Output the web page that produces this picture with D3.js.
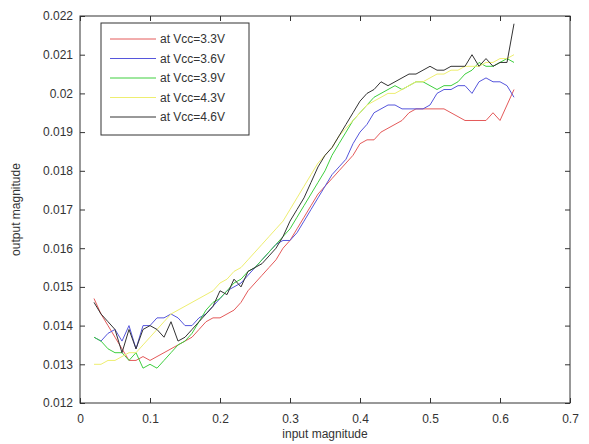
<!DOCTYPE html>
<html>
<head>
<meta charset="utf-8">
<script src="https://cdn.jsdelivr.net/npm/d3@7"></script>
<style>
  body { margin: 0; background: #fff; }
  text { font-family: "Liberation Sans", Arial, sans-serif; fill: #333; }
</style>
</head>
<body>
<script>
// input magnitude samples (shared by all series)
var xs = d3.range(2, 63).map(i => i / 100);

var names = ["at Vcc=3.3V", "at Vcc=3.6V", "at Vcc=3.9V", "at Vcc=4.3V", "at Vcc=4.6V"];
var colors = ["#e45a5a", "#5656dc", "#3fcf3f", "#eeee70", "#333333"];

// output magnitude per series
var v33 = [0.0147,0.0143,0.0140,0.0137,0.0134,0.0131,0.0131,0.0132,0.0131,0.0132,
           0.0133,0.0134,0.0135,0.0136,0.0137,0.0139,0.0141,0.0142,0.0142,0.0143,
           0.0144,0.0146,0.0149,0.0151,0.0153,0.0155,0.0157,0.0160,0.0162,0.0165,
           0.0168,0.0171,0.0174,0.0176,0.0178,0.0180,0.0182,0.0184,0.0187,0.0188,
           0.0188,0.0190,0.0191,0.0192,0.0193,0.0195,0.0196,0.0196,0.0196,0.0196,
           0.0196,0.0195,0.0194,0.0193,0.0193,0.0193,0.0193,0.0195,0.0193,0.0197,0.0201];
var v36 = [0.0137,0.0136,0.0138,0.0139,0.0136,0.0140,0.0134,0.0140,0.0140,0.0142,
           0.0142,0.0143,0.0142,0.0140,0.0140,0.0142,0.0143,0.0145,0.0147,0.0149,
           0.0150,0.0151,0.0153,0.0155,0.0157,0.0159,0.0161,0.0162,0.0162,0.0164,
           0.0167,0.0170,0.0173,0.0176,0.0179,0.0181,0.0183,0.0187,0.0190,0.0192,
           0.0195,0.0196,0.0197,0.0197,0.0196,0.0196,0.0196,0.0196,0.0197,0.0200,
           0.0201,0.0201,0.0202,0.0202,0.0200,0.0203,0.0204,0.0203,0.0203,0.0202,0.0199];
var v39 = [0.0137,0.0136,0.0134,0.0133,0.0133,0.0131,0.0133,0.0129,0.0130,0.0129,
           0.0131,0.0133,0.0135,0.0136,0.0138,0.0141,0.0144,0.0146,0.0147,0.0149,
           0.0151,0.0152,0.0154,0.0155,0.0157,0.0159,0.0161,0.0163,0.0165,0.0168,
           0.0171,0.0174,0.0177,0.0180,0.0184,0.0187,0.0190,0.0193,0.0195,0.0197,
           0.0199,0.0200,0.0201,0.0202,0.0201,0.0202,0.0203,0.0203,0.0202,0.0201,
           0.0202,0.0202,0.0203,0.0205,0.0206,0.0208,0.0207,0.0207,0.0208,0.0209,0.0208];
var v43 = [0.0130,0.0130,0.0131,0.0131,0.0132,0.0133,0.0133,0.0135,0.0137,0.0139,
           0.0141,0.0143,0.0144,0.0145,0.0146,0.0147,0.0148,0.0149,0.0151,0.0152,
           0.0154,0.0155,0.0157,0.0159,0.0161,0.0163,0.0165,0.0167,0.0170,0.0173,
           0.0176,0.0179,0.0182,0.0184,0.0186,0.0189,0.0191,0.0193,0.0195,0.0197,
           0.0198,0.0199,0.0200,0.0200,0.0201,0.0202,0.0203,0.0203,0.0204,0.0205,
           0.0205,0.0206,0.0206,0.0207,0.0207,0.0207,0.0208,0.0208,0.0209,0.0209,0.0210];
var v46 = [0.0146,0.0143,0.0141,0.0139,0.0133,0.0139,0.0134,0.0139,0.0140,0.0139,
           0.0137,0.0141,0.0136,0.0137,0.0139,0.0141,0.0143,0.0145,0.0149,0.0148,
           0.0152,0.0150,0.0154,0.0155,0.0156,0.0158,0.0160,0.0163,0.0167,0.0170,
           0.0173,0.0177,0.0181,0.0184,0.0186,0.0189,0.0192,0.0195,0.0198,0.0200,
           0.0201,0.0203,0.0202,0.0203,0.0204,0.0205,0.0205,0.0206,0.0207,0.0206,
           0.0206,0.0207,0.0207,0.0207,0.0210,0.0207,0.0209,0.0207,0.0208,0.0208,0.0218];
var series = [v33, v36, v39, v43, v46];

var xTicks = [0, 0.1, 0.2, 0.3, 0.4, 0.5, 0.6, 0.7];
var yTicks = [0.012, 0.013, 0.014, 0.015, 0.016, 0.017, 0.018, 0.019, 0.02, 0.021, 0.022];

var margin = {top: 16, right: 19, bottom: 41, left: 80},
    width = 589 - margin.left - margin.right,
    height = 444 - margin.top - margin.bottom;

var x = d3.scaleLinear().domain([0, 0.7]).range([0, width]);
var y = d3.scaleLinear().domain([0.012, 0.022]).range([height, 0]);

var svg = d3.select("body").append("svg")
    .attr("width", 589)
    .attr("height", 444)
  .append("g")
    .attr("transform", "translate(" + margin.left + "," + margin.top + ")");

// axes with inward ticks, MATLAB style
function styleAxis(g) {
  g.select(".domain").remove();
  g.selectAll("line").attr("stroke", "#333");
  g.selectAll("text").style("font-size", "12px").attr("fill", "#333");
}
svg.append("g").attr("transform", "translate(0," + height + ")")
    .call(d3.axisBottom(x).tickValues(xTicks).tickSize(-5).tickPadding(11).tickFormat(d3.format("")))
    .call(styleAxis);
svg.append("g")
    .call(d3.axisTop(x).tickValues(xTicks).tickSize(-5).tickFormat(""))
    .call(styleAxis);
svg.append("g")
    .call(d3.axisLeft(y).tickValues(yTicks).tickSize(-5).tickPadding(7).tickFormat(d3.format("")))
    .call(styleAxis);
svg.append("g").attr("transform", "translate(" + width + ",0)")
    .call(d3.axisRight(y).tickValues(yTicks).tickSize(-5).tickFormat(""))
    .call(styleAxis);

svg.append("rect")
    .attr("width", width).attr("height", height)
    .attr("fill", "none").attr("stroke", "#333").attr("stroke-width", 1);

// data lines
var line = d3.line().x((d, i) => x(xs[i])).y(d => y(d));
svg.selectAll(".series")
  .data(series)
  .enter().append("path")
    .attr("class", "series")
    .attr("fill", "none")
    .attr("stroke", (d, i) => colors[i])
    .attr("stroke-width", 1)
    .attr("d", line);

// axis titles
svg.append("text")
    .attr("x", width / 2).attr("y", height + 35)
    .attr("text-anchor", "middle").style("font-size", "12px")
    .text("input magnitude");
svg.append("text")
    .attr("transform", "rotate(-90)")
    .attr("x", -height / 2).attr("y", -60)
    .attr("text-anchor", "middle").style("font-size", "12px")
    .text("output magnitude");

// legend
var legend = svg.append("g").attr("transform", "translate(21,7)");
legend.append("rect")
    .attr("width", 148).attr("height", 112)
    .attr("fill", "#fff").attr("stroke", "#333");
var items = legend.selectAll(".item")
  .data(names)
  .enter().append("g")
    .attr("class", "item")
    .attr("transform", (d, i) => "translate(0," + (16 + i * 19.5) + ")");
items.append("line")
    .attr("x1", 9).attr("x2", 55)
    .attr("stroke", (d, i) => colors[i]);
items.append("text")
    .attr("x", 59).attr("dy", "0.35em")
    .style("font-size", "12px")
    .text(d => d);
</script>
</body>
</html>
